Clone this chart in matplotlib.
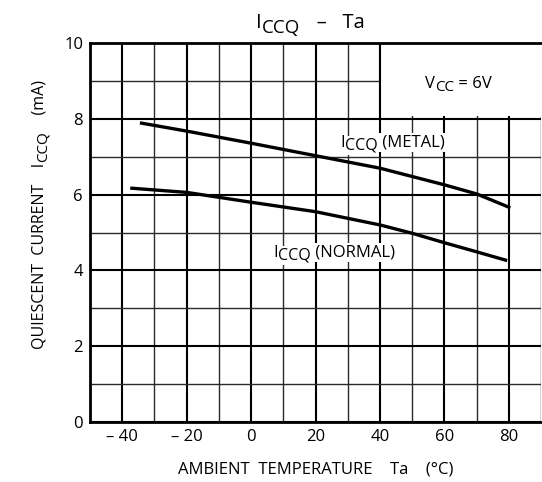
import matplotlib
matplotlib.use("Agg")
import matplotlib.pyplot as plt
from matplotlib.patches import Rectangle
from matplotlib.ticker import MultipleLocator

plt.rcParams['font.family'] = ['Open Sans', 'DejaVu Sans']

ta_metal = [-34, -20, 0, 20, 40, 60, 70, 80]
iccq_metal = [7.89, 7.68, 7.36, 7.03, 6.70, 6.26, 6.02, 5.67]

ta_normal = [-37, -20, 0, 20, 40, 50, 60, 70, 79]
iccq_normal = [6.17, 6.06, 5.80, 5.55, 5.20, 4.98, 4.73, 4.49, 4.27]

x_ticks = [-40, -20, 0, 20, 40, 60, 80]
x_tick_labels = ['\u2013 40', '\u2013 20', '0', '20', '40', '60', '80']
y_ticks = [0, 2, 4, 6, 8, 10]

WHITE = dict(facecolor='white', edgecolor='none', pad=1)


def sub_text(ax, x, y, pre, sub, post, size, subsize, drop=2,
             coords='data', box=False):
    # text with a lowered subscript, pieces chained with annotate
    kw = dict(bbox=WHITE) if box else {}
    t1 = ax.annotate(pre, xy=(x, y), xycoords=coords, fontsize=size,
                     ha='left', va='baseline', zorder=3,
                     annotation_clip=False, **kw)
    t2 = ax.annotate(sub, xy=(1, 0), xycoords=t1, xytext=(0.5, -drop),
                     textcoords='offset points', fontsize=subsize,
                     ha='left', va='bottom', zorder=3, **kw)
    if post:
        ax.annotate(post, xy=(1, 0), xycoords=t2, xytext=(0, drop),
                    textcoords='offset points', fontsize=size,
                    ha='left', va='bottom', zorder=3, **kw)


def main():
    fig = plt.figure(figsize=(5.42, 4.82), dpi=100)
    ax = fig.add_axes([90 / 542, 60.3 / 482, 451 / 542, 378.4 / 482])
    # overlay for figure level text
    top = fig.add_axes([0, 0, 1, 1])
    top.axis('off')
    top.patch.set_alpha(0)

    ax.set_xlim(-50, 90)
    ax.set_ylim(0, 10)
    ax.set_xticks(x_ticks)
    ax.set_xticklabels(x_tick_labels)
    ax.set_yticks(y_ticks)
    ax.xaxis.set_minor_locator(MultipleLocator(10))
    ax.yaxis.set_minor_locator(MultipleLocator(1))
    ax.tick_params(which='both', length=0, labelsize=12, pad=5)

    ax.set_axisbelow(True)
    ax.grid(which='major', color='black', lw=1.5)
    ax.grid(which='minor', color='#2a2a2a', lw=1.0)
    for s in ax.spines.values():
        s.set_linewidth(2)
    ax.spines['right'].set_visible(False)

    # white box with the condition, covering the grid
    ax.add_patch(Rectangle((40, 8.08), 50, 1.92, facecolor='white',
                           edgecolor='none', zorder=1))
    ax.plot([40, 40], [8, 10], color='black', lw=1.5, zorder=1.5)
    sub_text(ax, 53.9, 8.81, 'V', 'CC', ' = 6V', 12, 11)

    ax.plot(ta_metal, iccq_metal, color='black', lw=2.4, zorder=2)
    ax.plot(ta_normal, iccq_normal, color='black', lw=2.4, zorder=2)

    sub_text(ax, 27.6, 7.27, 'I', 'CCQ', ' (METAL)', 12, 11.5, box=True)
    sub_text(ax, 6.8, 4.36, 'I', 'CCQ', ' (NORMAL)', 12, 11.5, box=True)

    sub_text(top, 256 / 542, 1 - 28.5 / 482, 'I', 'CCQ', '   \u2013   Ta',
             14.5, 13.5, drop=2.5, coords='axes fraction')

    # rotated y label, pieces chained upward
    t1 = top.annotate('QUIESCENT  CURRENT    I', xy=(40 / 542, 1 - 349 / 482),
                      xycoords='axes fraction', rotation=90, fontsize=11.5,
                      ha='center', va='bottom')
    t2 = top.annotate('CCQ', xy=(1, 1), xycoords=t1, xytext=(2, 0.5),
                      textcoords='offset points', rotation=90,
                      fontsize=11, ha='right', va='bottom')
    top.annotate('    (mA)', xy=(1, 1), xycoords=t2, xytext=(-2, 0),
                 textcoords='offset points', rotation=90, fontsize=11.5,
                 ha='right', va='bottom')

    top.text(316 / 542, 12 / 482,
             'AMBIENT  TEMPERATURE    Ta    (\u00b0C)',
             fontsize=12, ha='center', va='center', transform=top.transAxes)

    fig.savefig('out.png', dpi=100)


if __name__ == "__main__":
    main()
